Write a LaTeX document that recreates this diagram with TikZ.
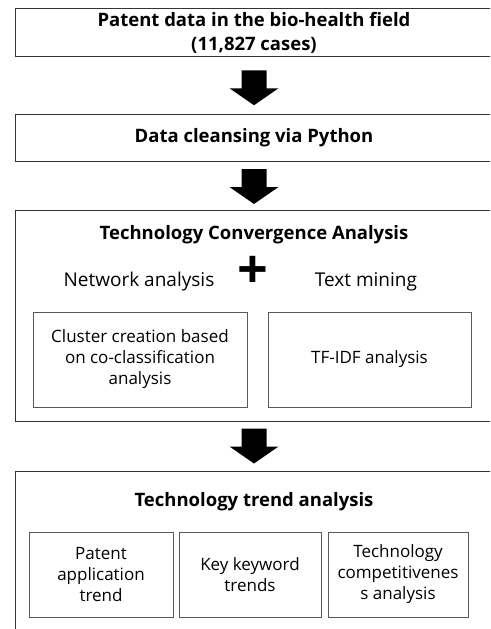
\documentclass[tikz,border=0pt]{standalone}
\usepackage{fontspec}
\setmainfont{Open Sans}
\usetikzlibrary{positioning,calc}

\begin{document}
\begin{tikzpicture}[x=1pt, y=-1pt,
	bigbox/.style={draw=black!80, line width=0.9pt, minimum width=478pt, inner sep=0pt},
	subbox/.style={draw=black!65, line width=0.8pt, align=center, inner sep=0pt, font=\fontsize{17}{21}\selectfont},
	boxtitle/.style={font=\bfseries\fontsize{18.5}{24}\selectfont, align=center},
	methodname/.style={font=\fontsize{19}{22}\selectfont}]
	\useasboundingbox (0,0) rectangle (490,629);
	\clip (0,0) rectangle (490,629);

	% main steps
	\node[bigbox, minimum height=48pt, boxtitle] (patent) at (254,32.5) {Patent data in the bio-health field\\(11,827 cases)};
	\node[bigbox, minimum height=47pt, boxtitle] (cleansing) at (254,137.5) {Data cleansing via Python};
	\node[bigbox, minimum height=211pt] (convergence) at (254,315.5) {};
	\node[bigbox, minimum height=179pt] (trend) at (254,560.5) {};

	% fat arrows between the steps
	\foreach \a/\b/\d in {patent/cleansing/2.5, cleansing/convergence/1, convergence/trend/0}
		\fill[black] ($(\a.south)!0.5!(\b.north)+(0,\d)$) +(-12.5,-17.5) -- +(12.5,-17.5) -- +(12.5,0.5) -- +(24.5,0.5)
			-- +(0,17.5) -- +(-24.5,0.5) -- +(-12.5,0.5) -- cycle;

	% convergence analysis
	\node[boxtitle] (convtitle) at (254,235) {Technology Convergence Analysis};
	\node[methodname] (network) at (139,282) {Network analysis};
	\node[font=\bfseries\fontsize{54}{54}\selectfont, inner sep=0pt] (plus) at (253,272) {+};
	\node[methodname] (textmining) at (366,282) {Text mining};
	\node[subbox, minimum width=214pt, minimum height=95pt] (cluster) at (140,359.5) {Cluster creation based\\on co-classification\\analysis};
	\node[subbox, minimum width=203pt, minimum height=95pt] (tfidf) at (369.5,359.5) {TF-IDF analysis};

	% trend analysis
	\node[boxtitle] (trendtitle) at (254,502) {Technology trend analysis};
	\node[subbox, minimum width=144pt, minimum height=85pt] (application) at (101,574.5) {Patent\\application\\trend};
	\node[subbox, minimum width=142pt, minimum height=85pt] (keyword) at (250,574.5) {Key keyword\\trends};
	\node[subbox, minimum width=140pt, minimum height=85pt] (competitive) at (398,574.5) {Technology\\competitivenes\\s analysis};
\end{tikzpicture}
\end{document}
